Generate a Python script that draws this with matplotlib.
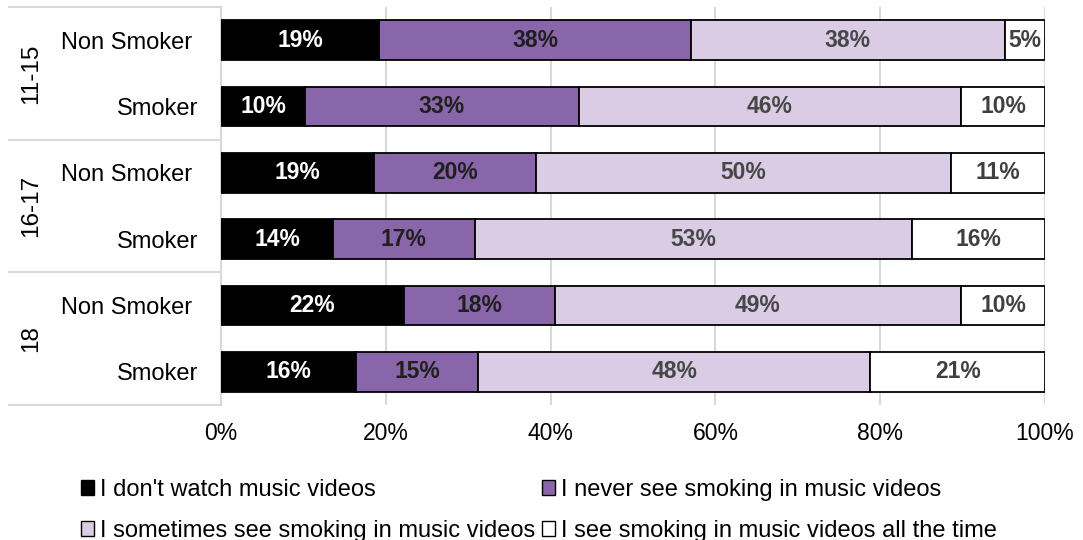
import matplotlib.pyplot as plt
import matplotlib.transforms as mtransforms
from matplotlib.patches import Patch
import numpy as np

plt.rcParams['font.family'] = ['Liberation Sans', 'DejaVu Sans']

# rows top to bottom
groups = ['11-15', '16-17', '18']
row_labels = ['Non Smoker ', 'Smoker', 'Non Smoker ', 'Smoker', 'Non Smoker ', 'Smoker']
series_names = ["I don't watch music videos",
                'I never see smoking in music videos',
                'I sometimes see smoking in music videos',
                'I see smoking in music videos all the time']

dont_watch = [19.2, 10.2, 18.6, 13.6, 22.2, 16.4]
never_see = [37.8, 33.2, 19.6, 17.2, 18.3, 14.8]
sometimes = [38.1, 46.4, 50.4, 53.0, 49.3, 47.6]
all_time = [4.9, 10.2, 11.4, 16.2, 10.2, 21.2]

colors = ['#000000', '#8866A9', '#D9CCE4', '#FFFFFF']
text_colors = ['#FFFFFF', '#1F1F1F', '#474747', '#404040']

fig = plt.figure(figsize=(10.83, 5.4), dpi=100)
ax = fig.add_axes([0.204, 0.25, 0.761, 0.737])

y = np.arange(len(row_labels))
left = np.zeros(len(row_labels))
for vals, col, tcol in zip([dont_watch, never_see, sometimes, all_time], colors, text_colors):
    vals = np.array(vals)
    b = ax.barh(y, vals, left=left, height=0.6, color=col,
                edgecolor='black', linewidth=1.3, zorder=3)
    ax.bar_label(b, labels=[f'{v:.0f}%' for v in vals], label_type='center',
                 color=tcol, fontsize=16.5, fontweight='bold')
    left += vals

ax.set_xlim(0, 100)
ax.set_ylim(len(row_labels) - 0.5, -0.5)
ax.set_xticks(np.arange(0, 101, 20))
ax.set_xticklabels([f'{t}%' for t in range(0, 101, 20)], fontsize=16.5)
ax.set_yticks(y)
ax.set_yticklabels(row_labels, fontsize=17)
ax.tick_params(axis='y', length=0, pad=16)
ax.tick_params(axis='x', length=0, pad=12)
ax.xaxis.grid(True, color='#D9D9D9', linewidth=1.5, zorder=0)
for s in ['top', 'right', 'bottom']:
    ax.spines[s].set_visible(False)
ax.spines['left'].set_color('#D9D9D9')
ax.spines['left'].set_linewidth(1.5)

# group boxes on the left
trans = mtransforms.blended_transform_factory(ax.transAxes, ax.transData)
for yb in [-0.5, 1.5, 3.5, 5.5]:
    ax.plot([-0.257, 0], [yb, yb], color='#D9D9D9', lw=1.5,
            transform=trans, clip_on=False)
for i, g in enumerate(groups):
    ax.text(-0.23, 2 * i + 0.5, g, rotation=90, ha='center', va='center',
            fontsize=17.5, transform=trans)

handles = [Patch(facecolor=c, edgecolor='black', linewidth=1) for c in colors]
order = [0, 2, 1, 3]
fig.legend([handles[i] for i in order], [series_names[i] for i in order],
           ncol=2, loc='upper left', bbox_to_anchor=(0.064, 0.135),
           frameon=False, fontsize=17, borderpad=0, handlelength=0.55,
           handleheight=0.55, handletextpad=0.25, columnspacing=0.3,
           labelspacing=0.8)

fig.savefig('out.png', dpi=100)
